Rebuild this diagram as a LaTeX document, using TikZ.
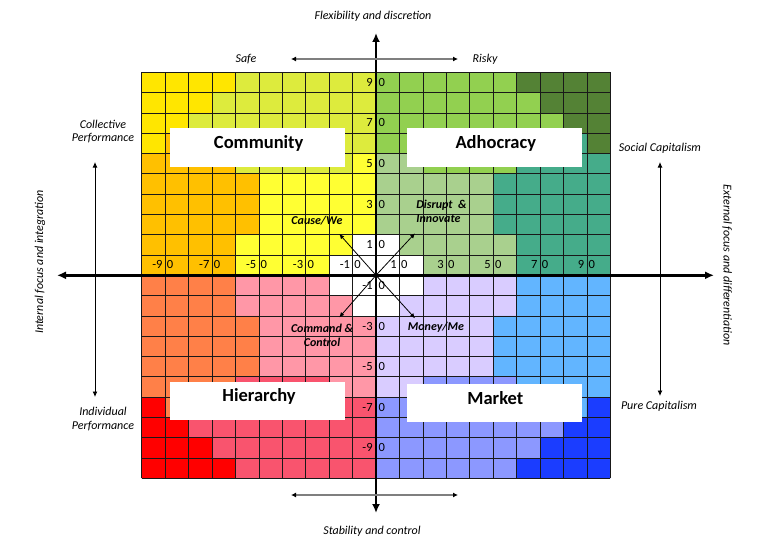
\documentclass[tikz,border=0pt]{standalone}
\usepackage{fontspec}
\setmainfont{Carlito}
\usetikzlibrary{arrows.meta}
\definecolor{cmCorner}{HTML}{FFE600}
\definecolor{cmBand}{HTML}{DDEB3D}
\definecolor{cmSide}{HTML}{FFC000}
\definecolor{cmIn}{HTML}{FFFF33}
\definecolor{adCorner}{HTML}{548235}
\definecolor{adBand}{HTML}{92D050}
\definecolor{adSide}{HTML}{45AC8A}
\definecolor{adIn}{HTML}{A9D08E}
\definecolor{hiCorner}{HTML}{FF0000}
\definecolor{hiBand}{HTML}{F9546E}
\definecolor{hiSide}{HTML}{FF8048}
\definecolor{hiIn}{HTML}{FF97A7}
\definecolor{mkCorner}{HTML}{1B3DFF}
\definecolor{mkBand}{HTML}{8C98FF}
\definecolor{mkSide}{HTML}{62B5FF}
\definecolor{mkIn}{HTML}{D9CCFF}
\definecolor{arrgray}{HTML}{7F7F7F}
% #1 x sign, #2 y sign (-1 = upper), #3 inner, #4 side, #5 band, #6 corner, #7 band start in row 6
\newcommand\quadfill[7]{%
\begin{scope}[shift={(376,275.3)}, xscale=#1*23.43, yscale=#2*20.3]
 \fill[#3] (0,0) rectangle (10,10);
 \fill[#4] (6,0) -- (10,0) -- (10,6) -- (9,6) -- (9,7) -- (6,7) -- (6,5) -- (5,5) -- (5,2) -- (6,2) -- cycle;
 \fill[#5] (#7,5) -- (6,5) -- (6,7) -- (8,7) -- (8,8) -- (7,8) -- (7,9) -- (6,9) -- (6,10) -- (0,10) -- (0,6) -- (#7,6) -- cycle;
 \fill[#6] (10,6) -- (10,10) -- (6,10) -- (6,9) -- (7,9) -- (7,8) -- (8,8) -- (8,7) -- (9,7) -- (9,6) -- cycle;
 \fill[white] (0,0) -- (2,0) -- (2,1) -- (1,1) -- (1,2) -- (0,2) -- cycle;
\end{scope}}
\newcommand\numpair[5]{%
 \node[numlab, anchor=east] (#1a) at ({#2-2.4},#3) {#4};
 \node[numlab, anchor=west] (#1b) at ({#2+1.6},#3) {#5};}
\newcommand\vnumpair[4]{%
 \node[numlab, anchor=east] (#1a) at (372.8,#2) {#3};
 \node[numlab, anchor=west] (#1b) at (378.3,#2) {#4};}
\tikzset{
 gridline/.style={draw=black!90, line width=0.7pt},
 numlab/.style={font=\fontsize{12.5}{13}\selectfont, inner sep=0pt},
 axlab/.style={font=\fontsize{12}{13.5}\selectfont\itshape, inner sep=0pt, align=center},
 tag/.style={font=\fontsize{12}{14}\selectfont\bfseries\itshape, inner sep=0pt},
 quadbox/.style={fill=white, draw=none, minimum width=175pt, minimum height=38.5pt, inner sep=0pt},
 quadtitle/.style={font=\fontsize{18.5}{20}\selectfont\bfseries, inner sep=0pt, anchor=base},
 mainaxis/.style={line width=2.6pt, {Latex[length=9pt,width=8pt]}-{Latex[length=9pt,width=8pt]}},
 grayarrow/.style={draw=arrgray, line width=1.4pt, {Latex[length=5pt,width=5pt,color=black]}-{Latex[length=5pt,width=5pt,color=black]}},
 sidearrow/.style={draw=black, line width=0.9pt, {Latex[length=5.5pt,width=5pt]}-{Latex[length=5.5pt,width=5pt]}},
 diagarrow/.style={draw=black, line width=0.8pt, -{Latex[length=5pt,width=4.5pt]}}
}
\begin{document}
\begin{tikzpicture}[x=1pt, y=-1pt]
\useasboundingbox (0,0) rectangle (773,551);
\fill[white] (0,0) rectangle (773,551);
% quadrant colour fields
\quadfill{-1}{-1}{cmIn}{cmSide}{cmBand}{cmCorner}{1}
\quadfill{1}{-1}{adIn}{adSide}{adBand}{adCorner}{2}
\quadfill{-1}{1}{hiIn}{hiSide}{hiBand}{hiCorner}{2}
\quadfill{1}{1}{mkIn}{mkSide}{mkBand}{mkCorner}{2}
% grid
\foreach \k in {0,...,20} {
 \draw[gridline] ({141.7+\k*23.43},72.3) -- ({141.7+\k*23.43},478.3);
 \draw[gridline] (141.7,{72.3+\k*20.3}) -- (610.3,{72.3+\k*20.3});
}
% quadrant title boxes
\node[quadbox] (commbox) at (257.5,147.5) {};
\node[quadbox] (adhobox) at (494.2,147.5) {};
\node[quadbox] (hierbox) at (257.5,401.2) {};
\node[quadbox] (markbox) at (494.2,403.0) {};
\node[quadtitle] (commtitle) at (258.7,148.5) {Community};
\node[quadtitle] (adhotitle) at (495.8,148.5) {Adhocracy};
\node[quadtitle] (hiertitle) at (259.0,401.8) {Hierarchy};
\node[quadtitle] (marktitle) at (495.3,404.0) {Market};
% horizontal scale labels
\numpair{hm9}{165.13}{264.65}{-9}{0}
\numpair{hm7}{212.0}{264.65}{-7}{0}
\numpair{hm5}{258.85}{264.65}{-5}{0}
\numpair{hm3}{305.7}{264.65}{-3}{0}
\numpair{hm1}{352.6}{264.65}{-1}{0}
\numpair{hp1}{399.4}{264.65}{1}{0}
\numpair{hp3}{446.3}{264.65}{3}{0}
\numpair{hp5}{493.2}{264.65}{5}{0}
\numpair{hp7}{540.0}{264.65}{7}{0}
\numpair{hp9}{586.9}{264.65}{9}{0}
% vertical scale labels
\vnumpair{vp9}{82.45}{9}{0}
\vnumpair{vp7}{122.95}{7}{0}
\vnumpair{vp5}{163.55}{5}{0}
\vnumpair{vp3}{204.15}{3}{0}
\vnumpair{vp1}{244.75}{1}{0}
\vnumpair{vm1}{285.45}{-1}{0}
\vnumpair{vm3}{326.05}{-3}{0}
\vnumpair{vm5}{366.65}{-5}{0}
\vnumpair{vm7}{407.25}{-7}{0}
\vnumpair{vm9}{447.85}{-9}{0}
% main axes
\coordinate (axL) at (57,275.3);
\coordinate (axR) at (714,275.3);
\coordinate (axT) at (376,33);
\coordinate (axB) at (376,513);
\draw[mainaxis] (axL) -- (axR);
\draw[mainaxis] (axT) -- (axB);
% diagonal arrows
\coordinate (ctr) at (376,275.3);
\coordinate (nwtip) at (339.3,234);
\coordinate (netip) at (415,233.3);
\coordinate (swtip) at (339.3,317.3);
\coordinate (setip) at (415,318.3);
\draw[diagarrow] (ctr) -- (nwtip);
\draw[diagarrow] (ctr) -- (netip);
\draw[diagarrow] (ctr) -- (swtip);
\draw[diagarrow] (ctr) -- (setip);
% direction tags
\node[tag] (cause) at (317,220.7) {Cause/We};
\node[tag, align=left, anchor=west] (disrupt) at (416.2,211.3) {Disrupt~~\&\\Innovate};
\node[tag, align=center] (command) at (322,335.3) {Command \&\\Control};
\node[tag] (money) at (436,327.3) {Money/Me};
% outer labels
\node[axlab] (flex) at (373,16) {Flexibility and discretion};
\node[axlab] (stab) at (372,531) {Stability and control};
\node[axlab] (safe) at (246,59) {Safe};
\node[axlab] (risky) at (485,59) {Risky};
\coordinate (safeEnd) at (291,59);
\coordinate (riskyEnd) at (458,59);
\draw[grayarrow] (safeEnd) -- (riskyEnd);
\coordinate (lowL) at (291,495);
\coordinate (lowR) at (458,495);
\draw[grayarrow] (lowL) -- (lowR);
\node[axlab] (collect) at (103,131.5) {Collective\\Performance};
\node[axlab] (indiv) at (103,419) {Individual\\Performance};
\coordinate (leftTop) at (95,162);
\coordinate (leftBot) at (95,397);
\draw[sidearrow] (leftTop) -- (leftBot);
\node[axlab] (social) at (660,148) {Social Capitalism};
\node[axlab] (pure) at (659,406) {Pure Capitalism};
\coordinate (rightTop) at (660,162);
\coordinate (rightBot) at (660,396);
\draw[sidearrow] (rightTop) -- (rightBot);
\node[axlab, rotate=90] (internal) at (40,262) {Internal focus and integration};
\node[axlab, rotate=-90] (external) at (727,265) {External focus and differentiation};
\end{tikzpicture}
\end{document}
